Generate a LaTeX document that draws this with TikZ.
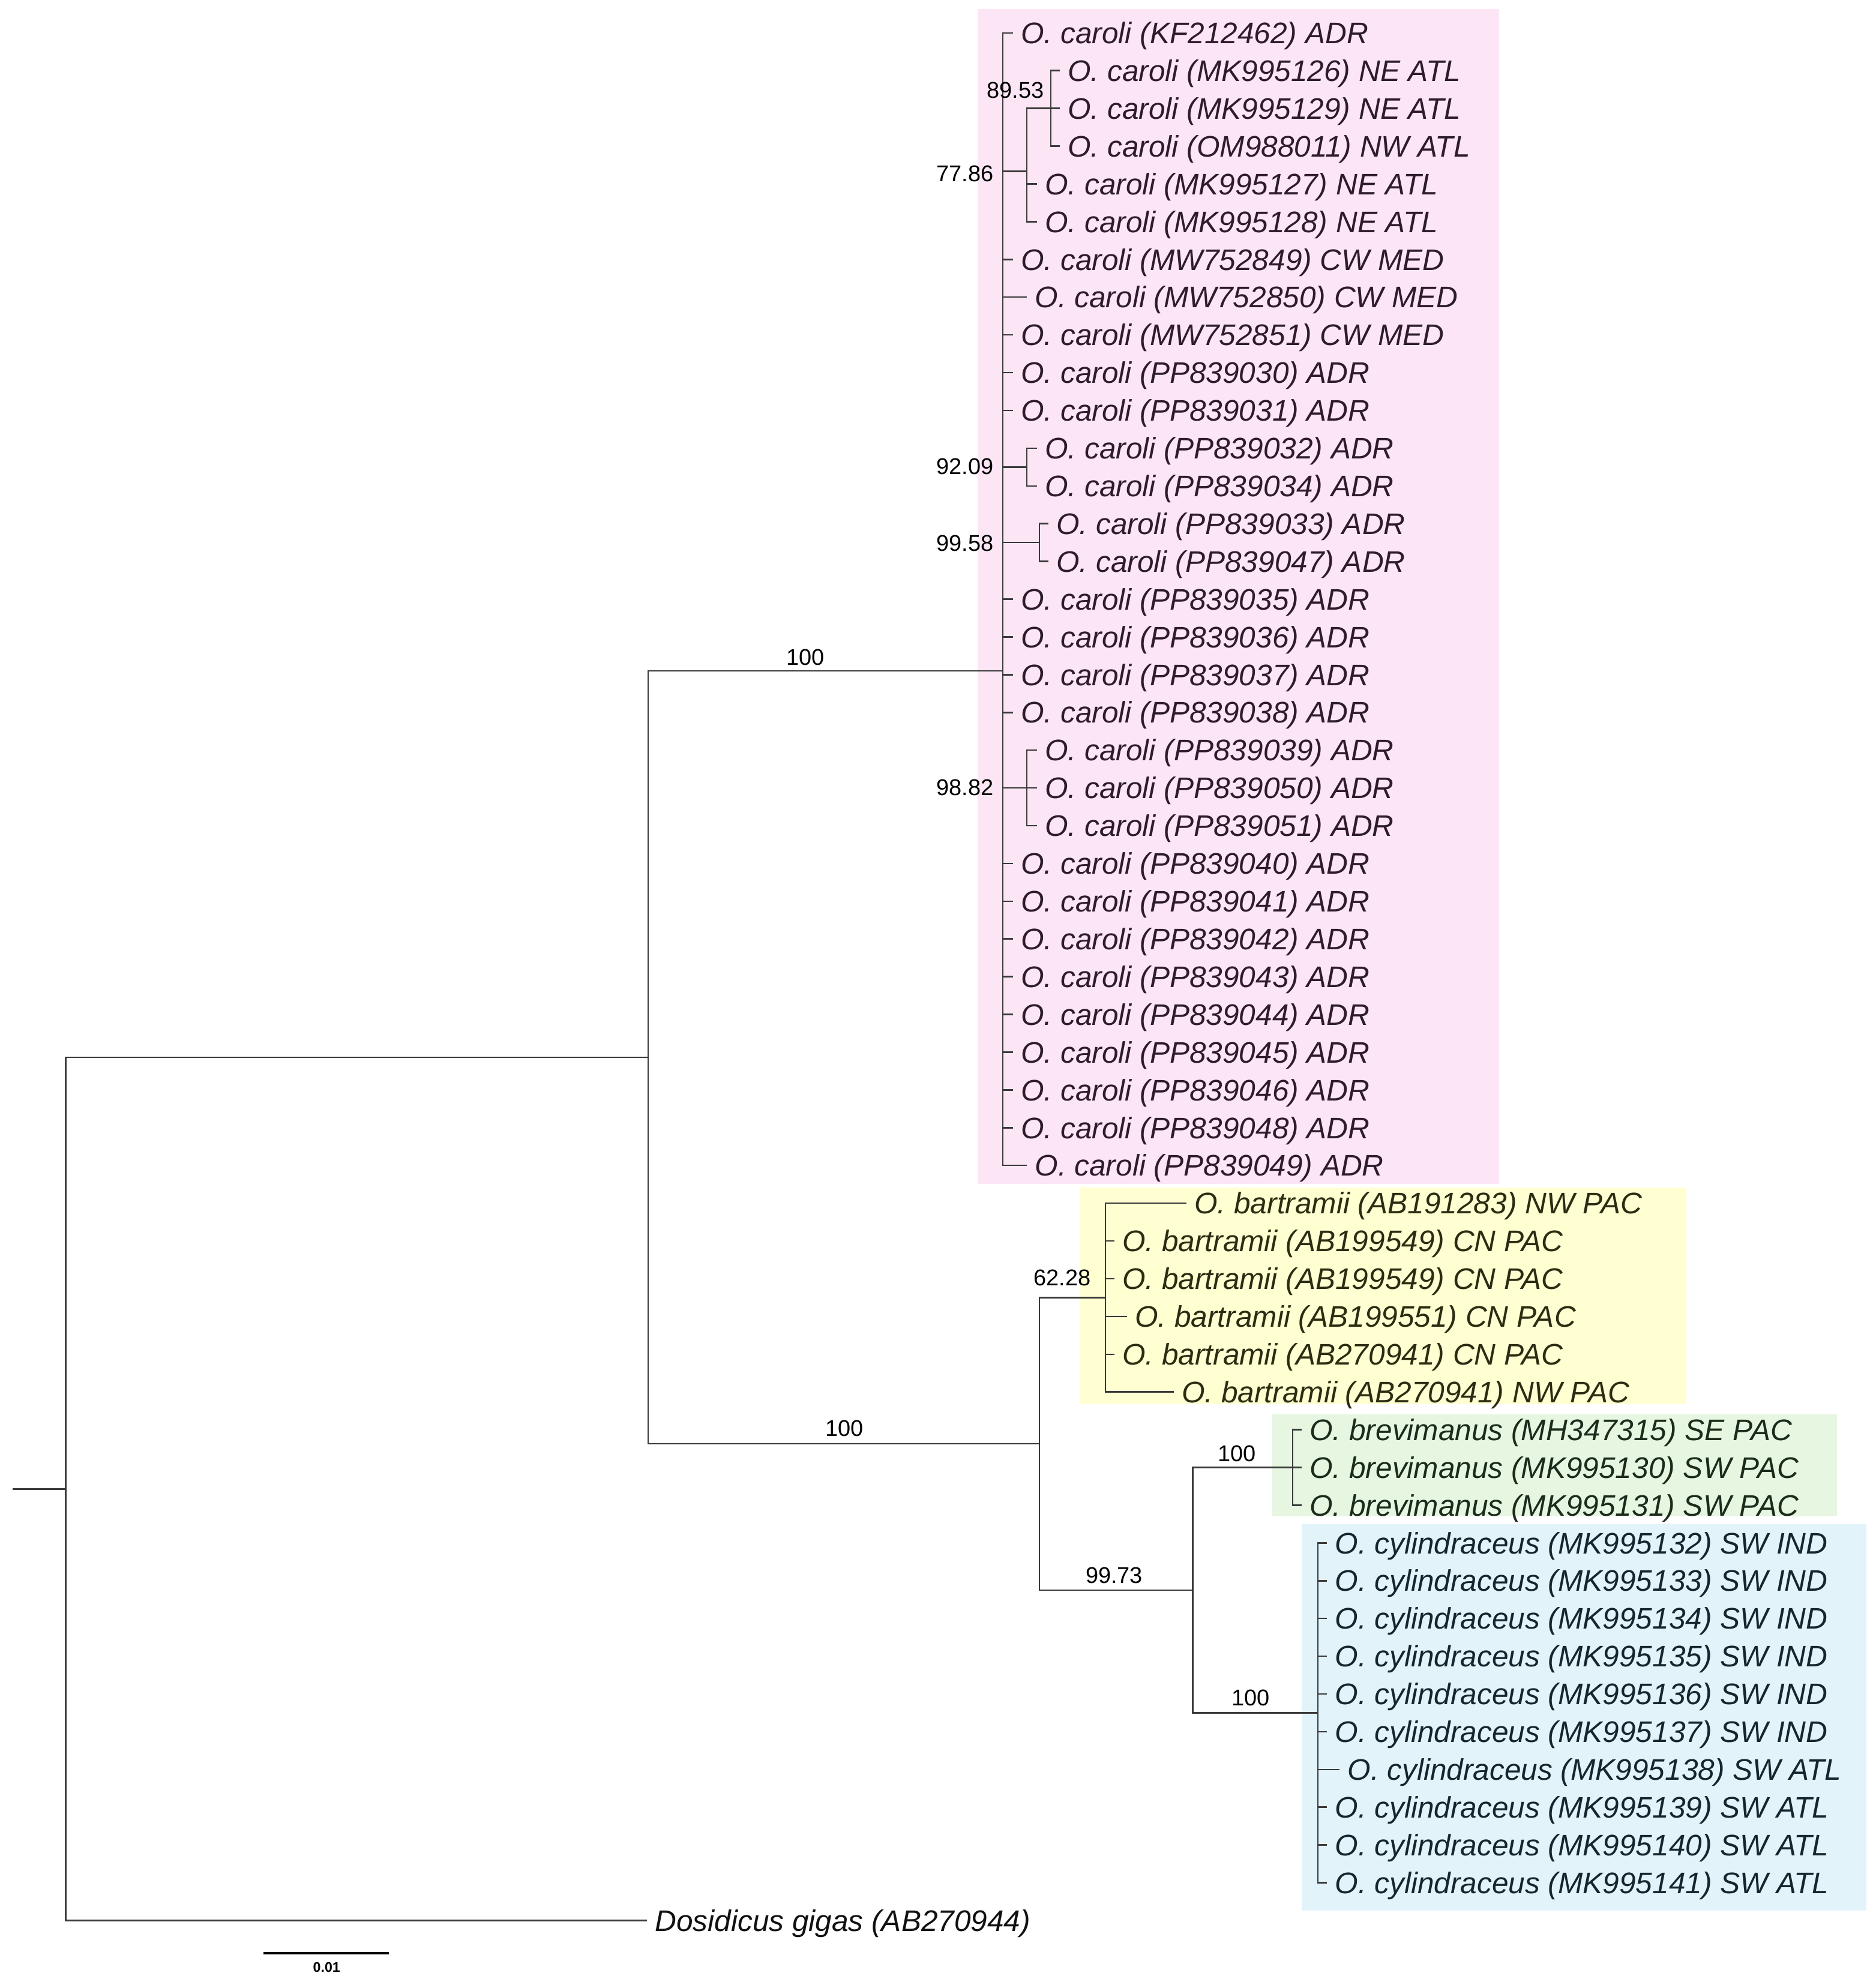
\documentclass[tikz,border=0pt]{standalone}
\usepackage{fontspec}
\setmainfont{Liberation Sans}
\definecolor{pinkbox}{HTML}{FCE6F6}
\definecolor{yelbox}{HTML}{FFFFD2}
\definecolor{grnbox}{HTML}{E6F6E1}
\definecolor{blubox}{HTML}{E2F3FA}
\definecolor{branchc}{HTML}{3A3A3A}
\definecolor{tpink}{HTML}{2E1C2C}
\definecolor{tyel}{HTML}{2C2C12}
\definecolor{tgrn}{HTML}{1C2C1C}
\definecolor{tblu}{HTML}{16262E}
\definecolor{tblk}{HTML}{111111}
\tikzset{
  br/.style={draw=branchc, line width=0.6pt},
  leaf/.style={font=\fontsize{11.75}{14}\selectfont\itshape, inner sep=0pt, anchor=base west},
  supp/.style={font=\fontsize{9}{11}\selectfont, inner sep=0pt, text=black},
}
\newcommand\lf[5]{%
  \coordinate (#1) at (#2,{26+29.82*#3});
  \node[leaf,text=#4] (#1l) at ({#2+6},{34.4+29.82*#3}) {#5};}
\begin{document}
\begin{tikzpicture}[x=0.5pt,y=-0.5pt]
\useasboundingbox (0,0) rectangle (1481.3,1568);
% clade boxes
\fill[pinkbox] (772,7) rectangle (1184,935);
\fill[yelbox] (853,938) rectangle (1332,1109);
\fill[grnbox] (1005,1117) rectangle (1451,1198);
\fill[blubox] (1028,1204) rectangle (1474,1509);
% internal nodes
\coordinate (rootstub) at (10,1176.1);
\coordinate (root) at (52,1176.1);
\coordinate (ingr) at (512,835.2);
\coordinate (car) at (792,529.9);
\coordinate (n8953) at (830,85.6);
\coordinate (n7786) at (811,135.3);
\coordinate (n9209) at (811,368.9);
\coordinate (n9958) at (821,428.6);
\coordinate (n9882) at (811,622.4);
\coordinate (oth) at (821,1140.5);
\coordinate (bar) at (873,1025);
\coordinate (bc) at (942,1256.1);
\coordinate (brv) at (1021,1159.2);
\coordinate (cyl) at (1041,1353);
% leaves
\lf{c0}{800}{0}{tpink}{O. caroli (KF212462) ADR}
\lf{c1}{837}{1}{tpink}{O. caroli (MK995126) NE ATL}
\lf{c2}{837}{2}{tpink}{O. caroli (MK995129) NE ATL}
\lf{c3}{837}{3}{tpink}{O. caroli (OM988011) NW ATL}
\lf{c4}{819}{4}{tpink}{O. caroli (MK995127) NE ATL}
\lf{c5}{819}{5}{tpink}{O. caroli (MK995128) NE ATL}
\lf{c6}{800}{6}{tpink}{O. caroli (MW752849) CW MED}
\lf{c7}{811}{7}{tpink}{O. caroli (MW752850) CW MED}
\lf{c8}{800}{8}{tpink}{O. caroli (MW752851) CW MED}
\lf{c9}{800}{9}{tpink}{O. caroli (PP839030) ADR}
\lf{c10}{800}{10}{tpink}{O. caroli (PP839031) ADR}
\lf{c11}{819}{11}{tpink}{O. caroli (PP839032) ADR}
\lf{c12}{819}{12}{tpink}{O. caroli (PP839034) ADR}
\lf{c13}{828}{13}{tpink}{O. caroli (PP839033) ADR}
\lf{c14}{828}{14}{tpink}{O. caroli (PP839047) ADR}
\lf{c15}{800}{15}{tpink}{O. caroli (PP839035) ADR}
\lf{c16}{800}{16}{tpink}{O. caroli (PP839036) ADR}
\lf{c17}{800}{17}{tpink}{O. caroli (PP839037) ADR}
\lf{c18}{800}{18}{tpink}{O. caroli (PP839038) ADR}
\lf{c19}{819}{19}{tpink}{O. caroli (PP839039) ADR}
\lf{c20}{819}{20}{tpink}{O. caroli (PP839050) ADR}
\lf{c21}{819}{21}{tpink}{O. caroli (PP839051) ADR}
\lf{c22}{800}{22}{tpink}{O. caroli (PP839040) ADR}
\lf{c23}{800}{23}{tpink}{O. caroli (PP839041) ADR}
\lf{c24}{800}{24}{tpink}{O. caroli (PP839042) ADR}
\lf{c25}{800}{25}{tpink}{O. caroli (PP839043) ADR}
\lf{c26}{800}{26}{tpink}{O. caroli (PP839044) ADR}
\lf{c27}{800}{27}{tpink}{O. caroli (PP839045) ADR}
\lf{c28}{800}{28}{tpink}{O. caroli (PP839046) ADR}
\lf{c29}{800}{29}{tpink}{O. caroli (PP839048) ADR}
\lf{c30}{811}{30}{tpink}{O. caroli (PP839049) ADR}
\lf{b31}{937}{31}{tyel}{O. bartramii (AB191283) NW PAC}
\lf{b32}{880}{32}{tyel}{O. bartramii (AB199549) CN PAC}
\lf{b33}{880}{33}{tyel}{O. bartramii (AB199549) CN PAC}
\lf{b34}{890}{34}{tyel}{O. bartramii (AB199551) CN PAC}
\lf{b35}{880}{35}{tyel}{O. bartramii (AB270941) CN PAC}
\lf{b36}{927}{36}{tyel}{O. bartramii (AB270941) NW PAC}
\lf{r37}{1028}{37}{tgrn}{O. brevimanus (MH347315) SE PAC}
\lf{r38}{1028}{38}{tgrn}{O. brevimanus (MK995130) SW PAC}
\lf{r39}{1028}{39}{tgrn}{O. brevimanus (MK995131) SW PAC}
\lf{y40}{1048}{40}{tblu}{O. cylindraceus (MK995132) SW IND}
\lf{y41}{1048}{41}{tblu}{O. cylindraceus (MK995133) SW IND}
\lf{y42}{1048}{42}{tblu}{O. cylindraceus (MK995134) SW IND}
\lf{y43}{1048}{43}{tblu}{O. cylindraceus (MK995135) SW IND}
\lf{y44}{1048}{44}{tblu}{O. cylindraceus (MK995136) SW IND}
\lf{y45}{1048}{45}{tblu}{O. cylindraceus (MK995137) SW IND}
\lf{y46}{1058}{46}{tblu}{O. cylindraceus (MK995138) SW ATL}
\lf{y47}{1048}{47}{tblu}{O. cylindraceus (MK995139) SW ATL}
\lf{y48}{1048}{48}{tblu}{O. cylindraceus (MK995140) SW ATL}
\lf{y49}{1048}{49}{tblu}{O. cylindraceus (MK995141) SW ATL}
\lf{dos}{511}{50}{tblk}{Dosidicus gigas (AB270944)}
% branches
\draw[br] (rootstub) -- (root);
\foreach \p/\c in {root/ingr, root/dos, ingr/car, ingr/oth,
  car/c0, car/n7786, car/c6, car/c7, car/c8, car/c9, car/c10, car/n9209, car/n9958,
  car/c15, car/c16, car/c17, car/c18, car/n9882,
  car/c22, car/c23, car/c24, car/c25, car/c26, car/c27, car/c28, car/c29, car/c30,
  n7786/n8953, n7786/c4, n7786/c5, n8953/c1, n8953/c2, n8953/c3,
  n9209/c11, n9209/c12, n9958/c13, n9958/c14, n9882/c19, n9882/c20, n9882/c21,
  oth/bar, oth/bc, bar/b31, bar/b32, bar/b33, bar/b34, bar/b35, bar/b36,
  bc/brv, bc/cyl, brv/r37, brv/r38, brv/r39,
  cyl/y40, cyl/y41, cyl/y42, cyl/y43, cyl/y44, cyl/y45, cyl/y46, cyl/y47, cyl/y48, cyl/y49}
  \draw[br] (\p) |- (\c);
% support values
\node[supp, anchor=base] (s1) at (636,525.5) {100};
\node[supp, anchor=base] (s2) at (667,1134.5) {100};
\node[supp, anchor=base east] (s3) at (862,1015.5) {62.28};
\node[supp, anchor=base] (s4) at (880,1250.5) {99.73};
\node[supp, anchor=base] (s5) at (977,1154.5) {100};
\node[supp, anchor=base] (s6) at (988,1347.5) {100};
\node[supp, anchor=base east] (s7) at (825,77.5) {89.53};
\node[supp, anchor=base east] (s8) at (785,143.5) {77.86};
\node[supp, anchor=base east] (s9) at (785,374.5) {92.09};
\node[supp, anchor=base east] (s10) at (785,435.5) {99.58};
\node[supp, anchor=base east] (s11) at (785,628.5) {98.82};
% scale bar
\coordinate (sb1) at (208,1543);
\coordinate (sb2) at (307,1543);
\draw[line width=1pt, draw=black] (sb1) -- (sb2);
\node[font=\fontsize{5.5}{6}\selectfont\bfseries, inner sep=0pt] (sbl) at (258,1554) {0.01};
\end{tikzpicture}
\end{document}
